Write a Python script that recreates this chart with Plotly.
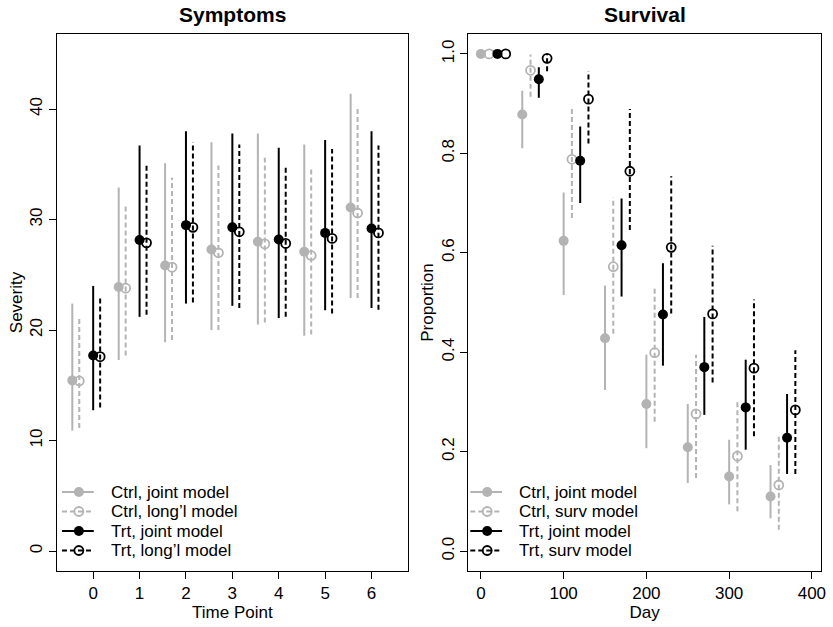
import plotly.graph_objects as go

# ---------------- Symptoms (severity by time point) ----------------
time_points = [0, 1, 2, 3, 4, 5, 6]

ctrl_joint_est = [15.45, 23.9, 25.85, 27.3, 28.0, 27.1, 31.1]
ctrl_joint_lo = [10.9, 17.3, 18.9, 20.0, 20.5, 19.5, 22.9]
ctrl_joint_hi = [22.4, 32.9, 35.1, 37.0, 37.8, 36.8, 41.4]

ctrl_long_est = [15.4, 23.8, 25.7, 27.0, 27.8, 26.75, 30.6]
ctrl_long_lo = [11.15, 17.7, 19.1, 20.0, 20.7, 19.6, 22.9]
ctrl_long_hi = [21.2, 31.4, 33.8, 34.9, 35.6, 34.7, 40.1]

trt_joint_est = [17.7, 28.15, 29.5, 29.3, 28.2, 28.8, 29.2]
trt_joint_lo = [12.75, 21.2, 22.4, 22.2, 21.1, 21.8, 22.0]
trt_joint_hi = [24.0, 36.7, 38.0, 37.8, 36.5, 37.2, 38.0]

trt_long_est = [17.6, 27.9, 29.3, 28.9, 27.85, 28.3, 28.8]
trt_long_lo = [13.0, 21.4, 22.5, 22.0, 21.2, 21.5, 21.85]
trt_long_hi = [23.1, 35.0, 37.0, 36.8, 34.8, 36.4, 36.7]

# ---------------- Survival (proportion by day) ----------------
days = [0, 50, 100, 150, 200, 250, 300, 350]

ctrl_jsurv_est = [1.0, 0.878, 0.624, 0.428, 0.296, 0.209, 0.150, 0.110]
ctrl_jsurv_lo = [1.0, 0.810, 0.515, 0.324, 0.207, 0.137, 0.094, 0.066]
ctrl_jsurv_hi = [1.0, 0.926, 0.721, 0.534, 0.395, 0.296, 0.224, 0.173]

ctrl_ssurv_est = [1.0, 0.967, 0.788, 0.572, 0.399, 0.276, 0.191, 0.133]
ctrl_ssurv_lo = [1.0, 0.914, 0.670, 0.437, 0.260, 0.147, 0.080, 0.043]
ctrl_ssurv_hi = [1.0, 0.999, 0.892, 0.711, 0.530, 0.395, 0.302, 0.234]

trt_jsurv_est = [1.0, 0.949, 0.785, 0.615, 0.476, 0.370, 0.289, 0.228]
trt_jsurv_lo = [1.0, 0.912, 0.700, 0.512, 0.373, 0.274, 0.204, 0.155]
trt_jsurv_hi = [1.0, 0.973, 0.854, 0.709, 0.579, 0.471, 0.385, 0.316]

trt_ssurv_est = [1.0, 0.991, 0.909, 0.764, 0.611, 0.477, 0.368, 0.284]
trt_ssurv_lo = [1.0, 0.965, 0.820, 0.646, 0.478, 0.339, 0.231, 0.155]
trt_ssurv_hi = [1.0, 1.0, 0.965, 0.889, 0.754, 0.614, 0.506, 0.404]

left_labels = ["Ctrl, joint model", "Ctrl, long\u2019l model",
               "Trt, joint model", "Trt, long\u2019l model"]
right_labels = ["Ctrl, joint model", "Ctrl, surv model",
                "Trt, joint model", "Trt, surv model"]

GRAY = "#b3b3b3"
BLACK = "#000000"
FONT = "Liberation Sans, Arial, Helvetica, sans-serif"
DASH = "5px,3px"

# plot-area geometry in pixels (used for the overlay that holds the legends)
W, H = 833, 627
L, R, T, B = 57, 826, 34, 571

fig = go.Figure()


def styles(color, dashed, filled):
    line = dict(color=color, width=2, dash=DASH if dashed else "solid")
    if filled:
        marker = dict(symbol="circle", size=10, color=color, line=dict(width=0))
    else:
        marker = dict(symbol="circle-open", size=9, color=color,
                      line=dict(width=1.8, color=color))
    return line, marker


def add_series(x, est, lo, hi, offset, color, dashed, filled, xa, ya):
    xs = [v + offset for v in x]
    seg_x, seg_y = [], []
    for xi, l, h in zip(xs, lo, hi):
        seg_x += [xi, xi, None]
        seg_y += [l, h, None]
    line, marker = styles(color, dashed, filled)
    fig.add_trace(go.Scatter(x=seg_x, y=seg_y, mode="lines", line=line,
                             xaxis=xa, yaxis=ya, showlegend=False, hoverinfo="skip"))
    fig.add_trace(go.Scatter(x=xs, y=est, mode="markers", marker=marker,
                             xaxis=xa, yaxis=ya, showlegend=False))


series_style = [(GRAY, False, True), (GRAY, True, False),
                (BLACK, False, True), (BLACK, True, False)]

left_data = [(ctrl_joint_est, ctrl_joint_lo, ctrl_joint_hi, -0.45),
             (ctrl_long_est, ctrl_long_lo, ctrl_long_hi, -0.30),
             (trt_joint_est, trt_joint_lo, trt_joint_hi, 0.0),
             (trt_long_est, trt_long_lo, trt_long_hi, 0.15)]
right_data = [(ctrl_jsurv_est, ctrl_jsurv_lo, ctrl_jsurv_hi, 0),
              (ctrl_ssurv_est, ctrl_ssurv_lo, ctrl_ssurv_hi, 10),
              (trt_jsurv_est, trt_jsurv_lo, trt_jsurv_hi, 20),
              (trt_ssurv_est, trt_ssurv_lo, trt_ssurv_hi, 30)]

for (est, lo, hi, off), st in zip(left_data, series_style):
    add_series(time_points, est, lo, hi, off, *st, "x", "y")
for (est, lo, hi, off), st in zip(right_data, series_style):
    add_series(days, est, lo, hi, off, *st, "x2", "y2")

# legends drawn on a pixel-scaled overlay
annotations = []
row_y = [492, 511.5, 531, 550.5]
for x0, labels in ((62, left_labels), (473, right_labels)):
    for yy, lab, (color, dashed, filled) in zip(row_y, labels, series_style):
        line, marker = styles(color, dashed, filled)
        fig.add_trace(go.Scatter(x=[x0, x0 + 32], y=[yy, yy], mode="lines", line=line,
                                 xaxis="x3", yaxis="y3", showlegend=False, hoverinfo="skip"))
        fig.add_trace(go.Scatter(x=[x0 + 17], y=[yy], mode="markers", marker=marker,
                                 xaxis="x3", yaxis="y3", showlegend=False, hoverinfo="skip"))
        annotations.append(dict(text=lab, x=x0 + 47, y=yy, xref="x3", yref="y3",
                                xanchor="left", yanchor="middle", showarrow=False,
                                font=dict(family=FONT, size=17, color="black")))

# panel titles (paper coordinates, placed above the frames)
title_y = (B - 15) / (B - T)
annotations += [
    dict(text="<b>Symptoms</b>", x=((L + 410) / 2 - L) / (R - L), y=title_y,
         xref="paper", yref="paper", xanchor="center", yanchor="middle", showarrow=False,
         font=dict(family=FONT, size=21, color="black")),
    dict(text="<b>Survival</b>", x=((471 + R) / 2 - L) / (R - L), y=title_y,
         xref="paper", yref="paper", xanchor="center", yanchor="middle", showarrow=False,
         font=dict(family=FONT, size=21, color="black")),
]

axis_common = dict(showline=True, linecolor="black", linewidth=1, mirror=True,
                   ticks="outside", ticklen=7, tickwidth=1, tickcolor="black",
                   showgrid=False, zeroline=False,
                   tickfont=dict(family=FONT, size=17, color="black"),
                   title_font=dict(family=FONT, size=17, color="black"))

fig.update_layout(
    width=W, height=H,
    margin=dict(l=L, r=W - R, t=T, b=H - B),
    paper_bgcolor="white", plot_bgcolor="rgba(0,0,0,0)",
    font=dict(family=FONT, size=17, color="black"),
    showlegend=False,
    xaxis=dict(domain=[0, (410 - L) / (R - L)], range=[-0.78, 6.78], tickvals=time_points,
               title=dict(text="Time Point", standoff=2), **axis_common),
    yaxis=dict(range=[-1.8, 46.8], tickvals=[0, 10, 20, 30, 40], tickangle=-90,
               title=dict(text="Severity", standoff=0), **axis_common),
    xaxis2=dict(domain=[(471 - L) / (R - L), 1], range=[-15.2, 411],
                tickvals=[0, 100, 200, 300, 400], anchor="y2",
                title=dict(text="Day", standoff=2), **axis_common),
    yaxis2=dict(range=[-0.04, 1.04], tickvals=[0, 0.2, 0.4, 0.6, 0.8, 1.0],
                tickformat=".1f", tickangle=-90, anchor="x2",
                title=dict(text="Proportion", standoff=0), **axis_common),
    xaxis3=dict(domain=[0, 1], range=[L, R], anchor="y3", visible=False, fixedrange=True),
    yaxis3=dict(domain=[0, 1], range=[B, T], anchor="x3", visible=False, fixedrange=True),
    annotations=annotations,
)

fig.write_html("out.html")
